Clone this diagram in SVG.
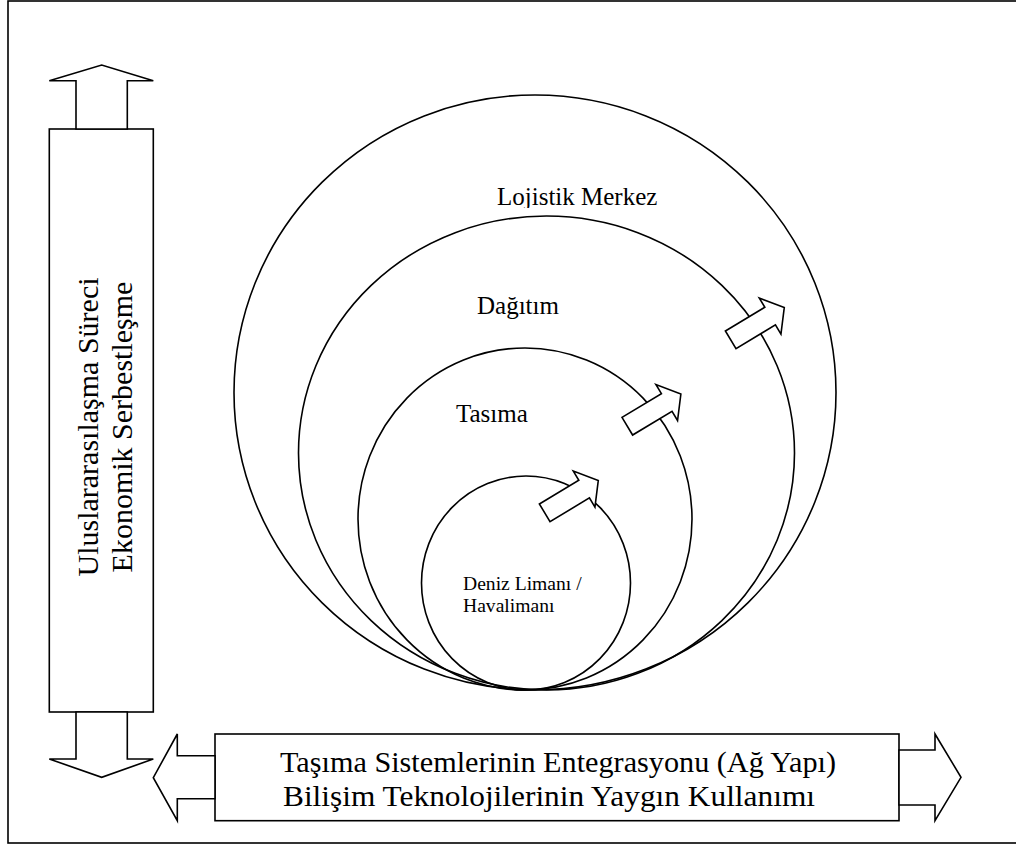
<svg xmlns="http://www.w3.org/2000/svg" width="1016" height="846" viewBox="0 0 1016 846">
  <style>
    .ln { fill: none; stroke: #000; stroke-width: 1.6; }
    .blk { fill: #fff; stroke: #000; stroke-width: 1.6; stroke-linejoin: miter; }
    .lbl { font-family: "Liberation Serif", "Times New Roman", serif; fill: #000; }
  </style>
  <defs>
    <!-- small block arrow, pointing along +x, tail centred on origin -->
    <path id="blockArrow" class="blk" d="M0,-10.3 L46,-10.3 L46,-21 L62.5,0 L46,21 L46,10.3 L0,10.3 Z"/>
    <clipPath id="clipTop"><rect x="480" y="170" width="200" height="38"/></clipPath>
  </defs>
  <rect width="1016" height="846" fill="#fff"/>
  <!-- page frame -->
  <rect x="8" y="1" width="1012" height="842" class="ln"/>

  <!-- nested rings -->
  <g id="ring-lojistik">
    <ellipse cx="535" cy="392.5" rx="301" ry="297.5" class="ln"/>
    <text class="lbl" x="497" y="205" font-size="25" clip-path="url(#clipTop)">Lojistik Merkez</text>
  </g>
  <g id="ring-dagitim">
    <ellipse cx="546.5" cy="453" rx="248" ry="237" class="ln"/>
    <text class="lbl" x="477" y="314" font-size="25">Dağıtım</text>
  </g>
  <g id="ring-tasima">
    <ellipse cx="525" cy="519" rx="167" ry="171" class="ln"/>
    <text class="lbl" x="456" y="421.5" font-size="25">Tasıma</text>
  </g>
  <g id="ring-liman">
    <ellipse cx="526" cy="583" rx="104.5" ry="107" class="ln"/>
    <text class="lbl" x="463" y="590" font-size="19.6">Deniz Limanı /</text>
    <text class="lbl" x="463" y="612" font-size="19.6">Havalimanı</text>
  </g>

  <!-- left column: globalisation / liberalisation -->
  <g id="box-left">
    <rect x="49.3" y="129" width="104" height="583" class="ln"/>
    <g transform="rotate(-90)">
      <text class="lbl" x="-427" y="98" font-size="30" text-anchor="middle">Uluslararasılaşma Süreci</text>
      <text class="lbl" x="-427" y="132" font-size="30" text-anchor="middle">Ekonomik Serbestleşme</text>
    </g>
  </g>

  <!-- bottom band: integration / IT -->
  <g id="box-bottom">
    <rect x="215" y="734" width="684" height="86.7" class="ln"/>
    <text class="lbl" x="280" y="772" font-size="30" textLength="556" lengthAdjust="spacingAndGlyphs">Taşıma Sistemlerinin Entegrasyonu (Ağ Yapı)</text>
    <text class="lbl" x="283" y="806" font-size="30" textLength="532" lengthAdjust="spacingAndGlyphs">Bilişim Teknolojilerinin Yaygın Kullanımı</text>
  </g>

  <g id="connectors">
    <!-- vertical double arrow on the left box -->
    <polygon class="blk" points="49.3,80.7 101.7,65 153.3,80.7 127.3,80.7 127.3,129 76,129 76,80.7"/>
    <polygon class="blk" points="76,712 127.3,712 127.3,759 153.3,759 101.7,777.3 49.3,759 76,759"/>
    <!-- horizontal double arrow on the bottom band -->
    <polygon class="blk" points="215,755.7 177.3,755.7 177.3,734 153.3,777.7 177.3,820.7 177.3,798.7 215,798.7"/>
    <polygon class="blk" points="899,750 935,750 935,734 961,777.3 935,820.7 935,805 899,805"/>
    <!-- outward growth arrows between rings -->
    <use href="#blockArrow" transform="translate(544.7,512.8) rotate(-31)"/>
    <use href="#blockArrow" transform="translate(627.3,426.2) rotate(-31)"/>
    <use href="#blockArrow" transform="translate(730.7,339.8) rotate(-31)"/>
  </g>
</svg>
